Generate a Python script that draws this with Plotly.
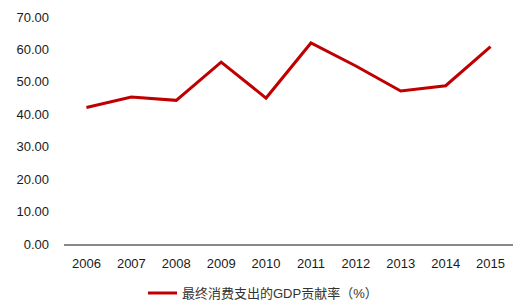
import plotly.graph_objects as go

years = ["2006", "2007", "2008", "2009", "2010", "2011", "2012", "2013", "2014", "2015"]
values = [42.1, 45.3, 44.3, 56.1, 45.0, 62.0, 54.9, 47.2, 48.8, 60.9]
series_name = "最终消费支出的GDP贡献率（%）"
y_ticks = [0, 10, 20, 30, 40, 50, 60, 70]

fig = go.Figure()
fig.add_trace(go.Scatter(
    x=years, y=values, mode="lines", name=series_name,
    line=dict(color="#C00000", width=3),
))

fig.update_layout(
    width=531, height=308,
    margin=dict(l=64, r=18, t=17, b=64),
    paper_bgcolor="white", plot_bgcolor="white",
    font=dict(family="Liberation Sans, Noto Sans CJK SC", size=13, color="#1a1a1a"),
    showlegend=False,
    xaxis=dict(
        type="category", range=[-0.5, 9.5], showgrid=False, showline=True,
        linecolor="#888", linewidth=2, automargin=False,
        ticks="", tickfont=dict(size=13), ticklabelstandoff=6,
    ),
    yaxis=dict(
        range=[0, 70], tickvals=y_ticks, tickformat=".2f", showgrid=False,
        showline=False, zeroline=False, ticks="", tickfont=dict(size=13),
        ticklabelstandoff=14, automargin=False,
    ),
)

# legend drawn as shape + annotation in paper space below the axis
fig.add_shape(type="line", xref="paper", yref="paper",
              x0=(148 - 64) / 449, x1=(177 - 64) / 449,
              y0=-49 / 227, y1=-49 / 227,
              line=dict(color="#C00000", width=3))
fig.add_annotation(xref="paper", yref="paper", x=(180 - 64) / 449, y=-49 / 227,
                   xanchor="left", yanchor="middle", showarrow=False,
                   text=series_name,
                   font=dict(family="Liberation Sans, Noto Sans CJK SC", size=13, color="#333"))

fig.write_html("out.html")
